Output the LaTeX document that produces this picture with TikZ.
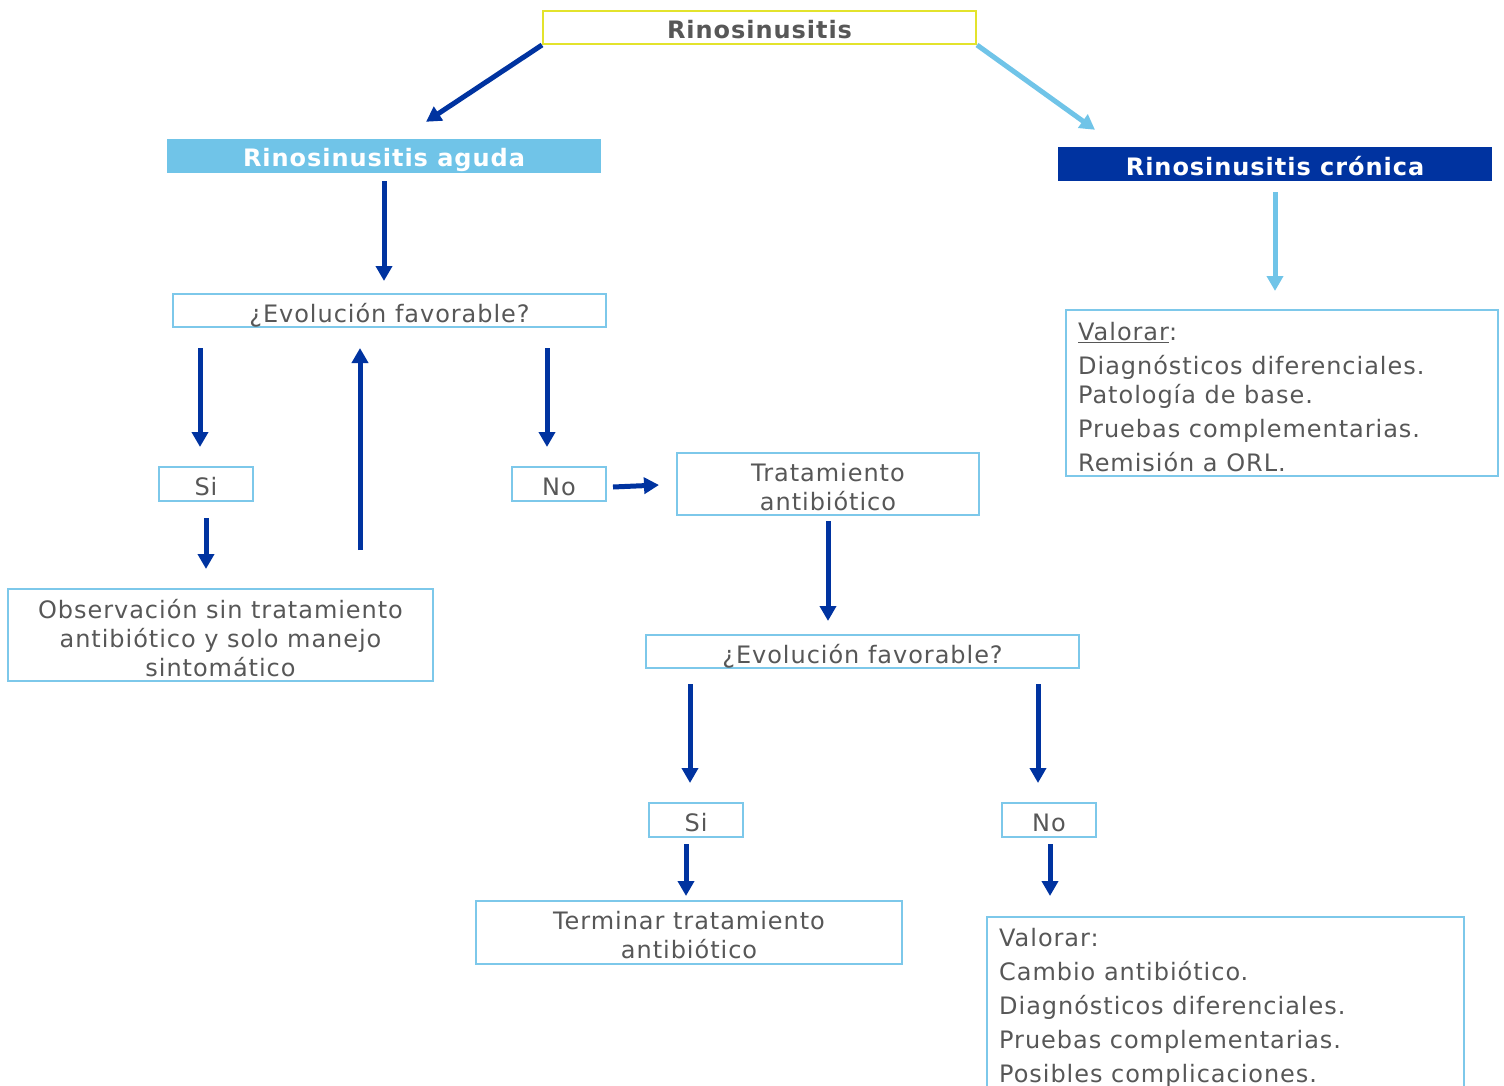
\documentclass[tikz,border=0pt]{standalone}
\usepackage{fontspec}
\setmainfont[LetterSpace=4]{DejaVu Sans}
\usetikzlibrary{arrows.meta,calc}
\definecolor{dblue}{HTML}{0033A0}
\definecolor{lblue}{HTML}{70C4E8}
\definecolor{bord}{HTML}{7DC8EA}
\definecolor{ylw}{HTML}{E3E32C}
\definecolor{txt}{HTML}{575757}
\begin{document}
\begin{tikzpicture}[x=1pt,y=-1pt,
  boxtext/.style={inner sep=0pt,text=txt,font=\fontsize{24}{29}\selectfont,align=center,yshift=-3pt},
  box/.style={draw=bord,line width=2pt,inner sep=0pt,label={[boxtext]center:{#1}}},
  box1/.style={draw=bord,line width=2pt,inner sep=0pt,label={[boxtext,yshift=-1.5pt]center:{#1}}},
  headtext/.style={inner sep=0pt,font=\bfseries\fontsize{24}{29}\selectfont,yshift=-4pt},
  head/.style={inner sep=0pt,label={[headtext,text=white]center:{#1}}},
  headc/.style={inner sep=0pt,label={[headtext,text=white,yshift=2pt]center:{#1}}},
  arr/.style={line width=5pt,draw=dblue,-{Triangle[length=15pt,width=16pt]}},
  larr/.style={line width=5pt,draw=lblue,-{Triangle[length=15pt,width=16pt]}}]
\useasboundingbox (0,0) rectangle (1504,1086);
\clip (0,0) rectangle (1504,1086);

% boxes
\node[draw=ylw,line width=2pt,inner sep=0pt,minimum width=433pt,minimum height=33pt,label={[headtext,text=txt,yshift=2pt]center:Rinosinusitis}] (rin) at (759.5,27.5) {};
\node[head={Rinosinusitis aguda},fill=lblue,minimum width=434pt,minimum height=34pt] (aguda) at (384,156) {};
\node[headc={Rinosinusitis crónica},fill=dblue,minimum width=434pt,minimum height=34pt] (cronica) at (1275,164) {};
\node[box1={¿Evolución favorable?},minimum width=433pt,minimum height=33pt] (evo1) at (389.5,310.5) {};
\node[box={Si},minimum width=94pt,minimum height=34pt] (si1) at (206,484) {};
\node[box={No},minimum width=94pt,minimum height=34pt] (no1) at (559,484) {};
\node[box={Tratamiento\\antibiótico},minimum width=302pt,minimum height=62pt] (trat) at (828,484) {};
\node[box={Observación sin tratamiento\\antibiótico y solo manejo\\sintomático},minimum width=425pt,minimum height=92pt] (obs) at (220.5,635) {};
\node[box1={¿Evolución favorable?},minimum width=433pt,minimum height=33pt] (evo2) at (862.5,651.5) {};
\node[box={Si},minimum width=94pt,minimum height=34pt] (si2) at (696,820) {};
\node[box={No},minimum width=94pt,minimum height=34pt] (no2) at (1049,820) {};
\node[box={Terminar tratamiento\\antibiótico},minimum width=426pt,minimum height=63pt] (term) at (689,932.5) {};
\node[draw=bord,line width=2pt,inner sep=0pt,minimum width=432pt,minimum height=166pt] (val1) at (1282,393) {};
\node[inner sep=0pt,text=txt,align=left,font=\fontsize{24}{34}\selectfont,anchor=north west] (val1t) at (1078,322) {\underline{Valorar}:\\Diagnósticos diferenciales.\\[-5pt]Patología de base.\\Pruebas complementarias.\\Remisión a ORL.};
\node[draw=bord,line width=2pt,inner sep=0pt,minimum width=477pt,minimum height=200pt] (val2) at (1225.5,1017) {};
\node[inner sep=0pt,text=txt,align=left,font=\fontsize{24}{34}\selectfont,anchor=north west] (val2t) at (999,928) {Valorar:\\Cambio antibiótico.\\Diagnósticos diferenciales.\\Pruebas complementarias.\\Posibles complicaciones.};

% connectors
\draw[arr] (rin.south west) -- ($(aguda.north)+(42,-17)$);
\draw[larr] (rin.south east) -- ($(cronica.north)+(-180,-17)$);
\draw[arr] ($(aguda.south)+(0,8)$) -- ($(aguda.south |- evo1.north)+(0,-12)$);
\draw[larr] ($(cronica.south)+(0,11)$) -- ($(cronica.south |- val1.north)+(0,-18)$);
\draw[arr] ($(evo1.south -| si1.north)+(-6,20)$) -- ($(si1.north)+(-6,-19)$);
\draw[arr] ($(obs.north)+(139.5,-38)$) -- ($(evo1.south)+(-29.5,20)$);
\draw[arr] ($(evo1.south -| no1.north)+(-12,20)$) -- ($(no1.north)+(-12,-19)$);
\draw[arr] ($(si1.south)+(0,16)$) -- ($(si1.south |- obs.north)+(0,-19)$);
\draw[arr] ($(no1.east)+(6,3)$) -- ($(trat.west)+(-17,1)$);
\draw[arr] ($(trat.south)+(0,5)$) -- ($(trat.south |- evo2.north)+(0,-13)$);
\draw[arr] ($(evo2.south -| si2.north)+(-6,15)$) -- ($(si2.north)+(-6,-19)$);
\draw[arr] ($(evo2.south -| no2.north)+(-11,15)$) -- ($(no2.north)+(-11,-19)$);
\draw[arr] ($(si2.south)+(-10,6)$) -- ($(si2.south |- term.north)+(-10,-4)$);
\draw[arr] ($(no2.south)+(1,6)$) -- ($(no2.south |- val2.north)+(1,-20)$);
\end{tikzpicture}
\end{document}
